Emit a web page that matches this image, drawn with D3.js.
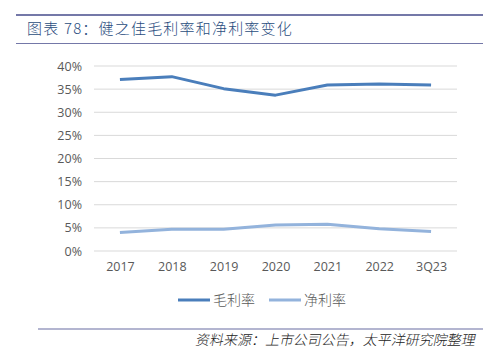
<!DOCTYPE html>
<html>
<head>
<meta charset="utf-8">
<script src="https://cdn.jsdelivr.net/npm/d3@7"></script>
<style>
  body { margin: 0; background: #fff; }
  text { font-family: "Noto Sans CJK SC", "DejaVu Sans", sans-serif; }
</style>
</head>
<body>
<svg id="chart" width="483" height="352"></svg>
<script>
var years = ["2017", "2018", "2019", "2020", "2021", "2022", "3Q23"];
var grossMargin = [37.1, 37.7, 35.1, 33.7, 35.9, 36.1, 35.9];
var netMargin = [4.0, 4.7, 4.7, 5.6, 5.8, 4.8, 4.2];
var yTicks = [0, 5, 10, 15, 20, 25, 30, 35, 40];
var seriesNames = ["毛利率", "净利率"];

var svg = d3.select("#chart");

// 顶部/底部装饰线
svg.append("line").attr("x1", 16).attr("x2", 483).attr("y1", 15).attr("y2", 15)
  .attr("stroke", "#7478a8").attr("stroke-width", 2);
svg.append("line").attr("x1", 16).attr("x2", 483).attr("y1", 43.5).attr("y2", 43.5)
  .attr("stroke", "#7478a8").attr("stroke-width", 1);
svg.append("text").attr("x", 27).attr("y", 34)
  .attr("fill", "#2a4d80").attr("font-size", 15).attr("letter-spacing", 1.2)
  .attr("font-weight", 300)
  .text("图表 78：健之佳毛利率和净利率变化");

var x = d3.scalePoint().domain(years).range([94, 457]).padding(0.5);
var y = d3.scaleLinear().domain([0, 40]).range([251, 66]);

// 网格
svg.append("g").selectAll("line").data(yTicks).enter().append("line")
  .attr("x1", 94).attr("x2", 457)
  .attr("y1", function(d){ return y(d); })
  .attr("y2", function(d){ return y(d); })
  .attr("stroke", "#d9d9d9").attr("stroke-width", 1);

var yAxis = svg.append("g").attr("transform", "translate(94,0)")
  .call(d3.axisLeft(y).tickValues(yTicks).tickSize(0).tickPadding(12)
    .tickFormat(function(d){ return d + "%"; }));
yAxis.select(".domain").remove();
yAxis.selectAll("text").attr("fill", "#595959").attr("font-size", 12.5)
  .style("font-family", "'Open Sans', sans-serif");

var xAxis = svg.append("g").attr("transform", "translate(0,251)")
  .call(d3.axisBottom(x).tickSize(0).tickPadding(11));
xAxis.select(".domain").remove();
xAxis.selectAll("text").attr("fill", "#595959").attr("font-size", 12.5)
  .style("font-family", "'Open Sans', sans-serif");

var line = d3.line()
  .x(function(d, i){ return x(years[i]); })
  .y(function(d){ return y(d); });

svg.append("path").datum(netMargin).attr("d", line)
  .attr("fill", "none").attr("stroke", "#93b3dc").attr("stroke-width", 3)
  .attr("stroke-linejoin", "round");
svg.append("path").datum(grossMargin).attr("d", line)
  .attr("fill", "none").attr("stroke", "#4a7ebb").attr("stroke-width", 3)
  .attr("stroke-linejoin", "round");

// 图例
var legendColors = ["#4a7ebb", "#93b3dc"];
var legendX = [178, 269];
var legend = svg.append("g").selectAll("g").data(seriesNames).enter().append("g")
  .attr("transform", function(d, i){ return "translate(" + legendX[i] + ",300)"; });
legend.append("line").attr("x1", 0).attr("x2", 32).attr("y1", 0).attr("y2", 0)
  .attr("stroke", function(d, i){ return legendColors[i]; }).attr("stroke-width", 3);
legend.append("text").attr("x", 35).attr("y", 5)
  .attr("fill", "#595959").attr("font-size", 14).attr("font-weight", 300)
  .text(function(d){ return d; });

// 资料来源
svg.append("line").attr("x1", 38).attr("x2", 483).attr("y1", 329).attr("y2", 329)
  .attr("stroke", "#9a9cc0").attr("stroke-width", 1.5);
svg.append("text").attr("x", 475).attr("y", 345)
  .attr("text-anchor", "end").attr("font-size", 14).attr("fill", "#222")
  .attr("font-weight", 300)
  .attr("transform", "skewX(-12) translate(73,0)")
  .text("资料来源：上市公司公告，太平洋研究院整理");
</script>
</body>
</html>
